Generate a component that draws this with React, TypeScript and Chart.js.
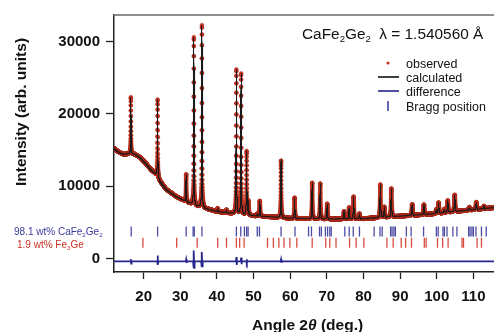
import React, { useEffect, useRef } from "react";
import { Chart, registerables } from "chart.js";

Chart.register(...registerables);

const FONT = "'Liberation Sans', Arial, Helvetica, sans-serif";

// Diffraction range (2θ, degrees) and measurement step
const thetaMin = 11.9;
const thetaMax = 121;
const thetaStep = 0.01;

// Smooth background under the pattern
const bgAngles = [11.9, 13, 14.5, 16, 17.5, 19, 20.7, 22, 23.5, 24.2, 26.1, 28.8, 31.5, 34, 37, 40, 44, 50, 55, 60, 70, 80, 90, 100, 105, 110, 115, 121];
const bgCounts = [15250, 14800, 14400, 14500, 14450, 14000, 13100, 12300, 11600, 10900, 9600, 8600, 7900, 7300, 6900, 6500, 6250, 5900, 5750, 5550, 5450, 5500, 5850, 6200, 6500, 6750, 7000, 7300];

// Reflections: position (2θ) and net height above background
const peakAngles = [16.5, 23.8, 31.6, 33.7, 35.9, 40.2, 42.6, 45.3, 46.6, 48.1, 48.6, 51.0, 51.7, 57.5, 61.2, 66.0, 68.2, 70.1, 74.7, 76.1, 77.3, 78.9, 84.6, 85.7, 87.6, 93.3, 96.5, 99.9, 100.5, 102.1, 103.0, 104.9, 108.9, 110.8, 112.9];
const peakHeights = [7840, 10700, 3770, 23240, 25230, 450, 400, 19950, 19460, 8800, 1900, 300, 2120, 7890, 2880, 4980, 4900, 2110, 1050, 1570, 3070, 700, 4560, 1420, 3920, 1530, 1380, 600, 1500, 500, 1630, 2300, 400, 1000, 350];

// Difference curve (observed - calculated), drawn offset below zero
const diffAngles = [11.9, 16.4, 16.5, 16.6, 16.7, 23.7, 23.8, 23.9, 24.0, 31.5, 31.6, 31.7, 31.8, 33.5, 33.6, 33.7, 33.8, 33.9, 35.7, 35.8, 35.9, 36.0, 36.1, 45.2, 45.3, 45.4, 45.5, 46.5, 46.6, 46.7, 46.8, 48.0, 48.1, 48.2, 48.3, 57.4, 57.5, 57.6, 57.7, 121];
const diffCounts = [-400, -400, -100, -700, -400, -400, 400, -900, -400, -400, -150, -650, -400, -400, -1300, 1100, -1300, -400, -400, -1200, 900, -1100, -400, -400, 200, -900, -400, -400, 100, -800, -400, -400, -100, -650, -400, -400, -150, -600, -400, -400];

// Bragg reflection positions of the two phases
const braggCaFe2Ge2 = [16.6, 23.8, 31.6, 33.5, 33.8, 35.9, 45.3, 46.5, 47.5, 48.1, 48.5, 51.0, 51.6, 57.5, 61.3, 65.0, 65.8, 68.0, 68.5, 69.6, 70.2, 70.8, 71.2, 74.9, 76.1, 77.2, 78.9, 82.9, 84.5, 85.1, 87.4, 87.8, 88.3, 88.7, 91.7, 93.0, 96.4, 99.9, 100.4, 101.7, 102.1, 102.8, 104.4, 105.5, 108.7, 109.1, 109.6, 110.0, 110.7, 112.2, 113.5];
const braggFe3Ge = [19.8, 29.0, 34.6, 40.2, 42.6, 45.3, 46.2, 47.4, 53.8, 55.4, 56.9, 58.3, 59.9, 61.8, 66.0, 69.7, 70.8, 72.5, 76.2, 78.0, 80.1, 86.4, 88.1, 90.3, 91.5, 93.1, 96.6, 97.1, 100.2, 101.6, 103.1, 106.9, 107.3, 111.0, 112.2];
const braggRowCaFe2Ge2 = 3730;
const braggRowFe3Ge = 2160;

const xTicks = [20, 30, 40, 50, 60, 70, 80, 90, 100, 110];
const yTicks = [0, 10000, 20000, 30000];

const RED = "#cc3320";
const NAVY = "#26268c";

function background(t: number): number {
  if (t <= bgAngles[0]) return bgCounts[0];
  for (let i = 1; i < bgAngles.length; i++) {
    if (t <= bgAngles[i]) {
      const f = (t - bgAngles[i - 1]) / (bgAngles[i] - bgAngles[i - 1]);
      return bgCounts[i - 1] + f * (bgCounts[i] - bgCounts[i - 1]);
    }
  }
  return bgCounts[bgCounts.length - 1];
}

// Pseudo-Voigt profile, width growing with angle
function profile(t: number): number {
  let y = background(t);
  for (let k = 0; k < peakAngles.length; k++) {
    const p = peakAngles[k];
    const hw = (0.13 + 0.0012 * (p - 12)) / 2;
    const d = (t - p) / hw;
    if (Math.abs(d) > 60) continue;
    const L = 1 / (1 + d * d);
    const G = Math.exp(-Math.LN2 * d * d);
    y += peakHeights[k] * (0.5 * L + 0.5 * G);
  }
  return y;
}

type Seg = { t: string; sub?: boolean; italic?: boolean };

function drawRich(ctx: CanvasRenderingContext2D, segs: Seg[], x: number, y: number, size: number, weight: string, color: string) {
  let cx = x;
  ctx.textAlign = "left";
  ctx.textBaseline = "alphabetic";
  ctx.fillStyle = color;
  for (const s of segs) {
    const sz = s.sub ? size * 0.62 : size;
    ctx.font = `${s.italic ? "italic " : ""}${weight} ${sz}px ${FONT}`;
    ctx.fillText(s.t, cx, s.sub ? y + size * 0.2 : y);
    cx += ctx.measureText(s.t).width;
  }
}

const overlay = {
  id: "overlay",
  afterDraw(chart: any) {
    const { ctx, chartArea } = chart;
    ctx.save();
    // top frame
    ctx.strokeStyle = "#6a6a6a";
    ctx.lineWidth = 1.5;
    ctx.beginPath();
    ctx.moveTo(chartArea.left - 0.75, chartArea.top);
    ctx.lineTo(chartArea.right, chartArea.top);
    ctx.stroke();

    // heading
    drawRich(ctx, [{ t: "CaFe" }, { t: "2", sub: true }, { t: "Ge" }, { t: "2", sub: true }, { t: "  λ = 1.540560 Å" }], 302, 39, 15.4, "normal", "#111");

    // key
    const kx = 406;
    const rows = [63, 77, 91, 106];
    ctx.fillStyle = RED;
    ctx.beginPath();
    ctx.arc(388, rows[0], 1.6, 0, Math.PI * 2);
    ctx.fill();
    ctx.lineWidth = 1.6;
    ctx.strokeStyle = "#111";
    ctx.beginPath();
    ctx.moveTo(378, rows[1]);
    ctx.lineTo(399, rows[1]);
    ctx.stroke();
    ctx.strokeStyle = NAVY;
    ctx.beginPath();
    ctx.moveTo(378, rows[2]);
    ctx.lineTo(399, rows[2]);
    ctx.stroke();
    ctx.lineWidth = 1.4;
    ctx.beginPath();
    ctx.moveTo(388, rows[3] - 5);
    ctx.lineTo(388, rows[3] + 5);
    ctx.stroke();
    ctx.font = `12.5px ${FONT}`;
    ctx.fillStyle = "#111";
    ctx.textAlign = "left";
    ctx.textBaseline = "alphabetic";
    const names = ["observed", "calculated", "difference", "Bragg position"];
    names.forEach((n, i) => ctx.fillText(n, kx, rows[i] + 4.5));

    // phase labels
    drawRich(ctx, [{ t: "98.1 wt% CaFe" }, { t: "2", sub: true }, { t: "Ge" }, { t: "2", sub: true }], 14, 235.3, 10, "normal", "#3a3a9a");
    drawRich(ctx, [{ t: "1.9 wt% Fe" }, { t: "3", sub: true }, { t: "Ge" }], 17, 247.8, 10, "normal", "#c83228");

    // axis titles
    ctx.save();
    ctx.translate(22, 112);
    ctx.rotate(-Math.PI / 2);
    ctx.font = `bold 15.5px ${FONT}`;
    ctx.fillStyle = "#111";
    ctx.textAlign = "center";
    ctx.textBaseline = "middle";
    ctx.fillText("Intensity (arb. units)", 0, 0);
    ctx.restore();

    drawRich(ctx, [{ t: "Angle 2" }, { t: "θ", italic: true }, { t: " (deg.)" }], 252, 329.5, 15.5, "bold", "#111");
    ctx.restore();
  },
};

export default function App() {
  const ref = useRef<HTMLCanvasElement | null>(null);

  useEffect(() => {
    const canvas = ref.current;
    if (!canvas) return;

    const calc: { x: number; y: number }[] = [];
    const n = Math.round((thetaMax - thetaMin) / thetaStep);
    for (let i = 0; i <= n; i++) {
      const t = Math.round((thetaMin + i * thetaStep) * 100) / 100;
      calc.push({ x: t, y: profile(t) });
    }
    const obs = calc.map((p) => ({ x: p.x, y: p.y }));
    const diff = diffAngles.map((a, i) => ({ x: a, y: diffCounts[i] }));
    const tickA = braggCaFe2Ge2.map((a) => ({ x: a, y: braggRowCaFe2Ge2 }));
    const tickB = braggFe3Ge.map((a) => ({ x: a, y: braggRowFe3Ge }));

    const chart = new Chart(canvas, {
      type: "scatter",
      data: {
        datasets: [
          { label: "calculated", data: calc, showLine: true, pointRadius: 0, borderColor: "#1a1a1a", borderWidth: 1.1, order: 0 },
          { label: "observed", data: obs, showLine: false, pointRadius: 1.9, pointBackgroundColor: RED, pointBorderColor: "#a52818", pointBorderWidth: 0.4, order: 1 },
          { label: "difference", data: diff, showLine: true, pointRadius: 0, borderColor: NAVY, borderWidth: 1.8, order: 2 },
          { label: "CaFe2Ge2", data: tickA, showLine: false, pointStyle: "line", rotation: 90, pointRadius: 5, pointBorderColor: "rgba(45,45,150,0.85)", pointBorderWidth: 1.3, order: 3 },
          { label: "Fe3Ge", data: tickB, showLine: false, pointStyle: "line", rotation: 90, pointRadius: 5, pointBorderColor: "rgba(210,45,30,0.85)", pointBorderWidth: 1.3, order: 4 },
        ] as any,
      },
      options: {
        responsive: false,
        animation: false,
        devicePixelRatio: 1,
        events: [],
        parsing: false,
        normalized: true,
        layout: { padding: { top: 12, left: 0, right: 0, bottom: 0 } },
        plugins: { legend: { display: false }, tooltip: { enabled: false } },
        scales: {
          x: {
            type: "linear",
            min: thetaMin,
            max: thetaMax,
            afterBuildTicks: (s: any) => {
              s.ticks = xTicks.map((v) => ({ value: v }));
            },
            afterFit: (s: any) => {
              s.height = 60;
            },
            grid: { drawOnChartArea: false, drawTicks: true, tickLength: 7, tickWidth: 1.3, tickColor: "#222" },
            border: { display: true, color: "#222", width: 1.5 },
            ticks: { font: { family: FONT, size: 15, weight: "bold" }, color: "#111", padding: 9, maxRotation: 0, autoSkip: false },
          },
          y: {
            type: "linear",
            min: -1880,
            max: 33700,
            afterBuildTicks: (s: any) => {
              s.ticks = yTicks.map((v) => ({ value: v }));
            },
            afterFit: (s: any) => {
              s.width = 114;
            },
            grid: { drawOnChartArea: false, drawTicks: true, tickLength: 8, tickWidth: 1.3, tickColor: "#222" },
            border: { display: true, color: "#222", width: 1.5 },
            ticks: { font: { family: FONT, size: 15, weight: "bold" }, color: "#111", padding: 6, autoSkip: false, callback: (v: any) => String(v) },
          },
        },
      } as any,
      plugins: [overlay],
    });

    return () => chart.destroy();
  }, []);

  return (
    <div style={{ position: "fixed", left: 0, top: 0, width: 494, height: 332, overflow: "hidden", background: "#fff" }}>
      <canvas ref={ref} width={520} height={332} style={{ display: "block" }} />
    </div>
  );
}
